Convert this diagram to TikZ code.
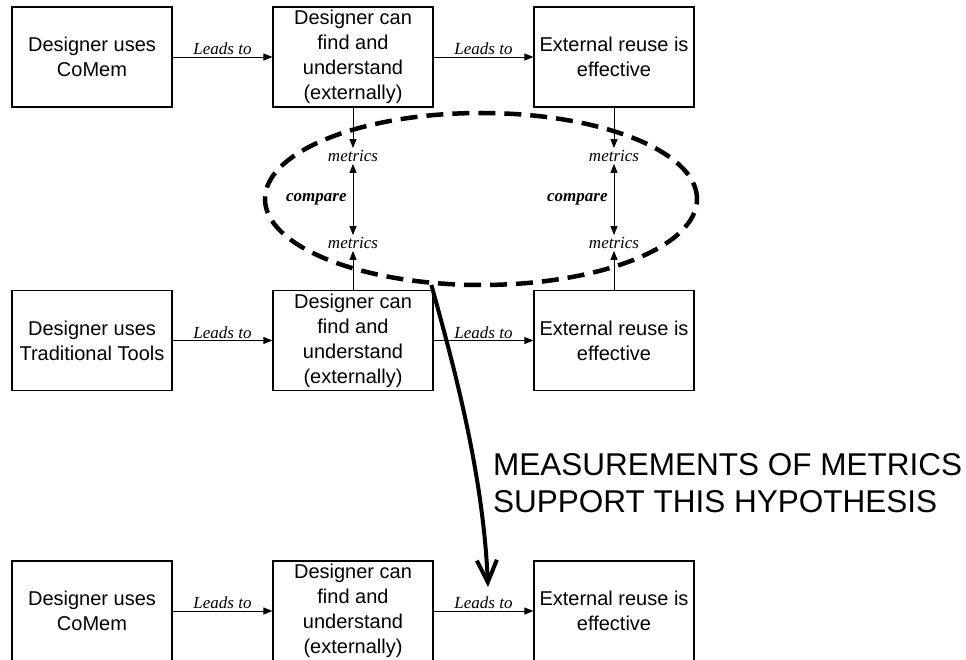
\documentclass[tikz,border=0pt]{standalone}
\usepackage{fontspec}
\setmainfont{Liberation Serif}
\newfontfamily\arialf{Liberation Sans}
\usetikzlibrary{arrows.meta,shapes.geometric}
\begin{document}
\begin{tikzpicture}[x=1pt,y=-1pt,
  box/.style={draw,line width=1.2pt,minimum width=160pt,minimum height=100pt,inner sep=0pt,align=center,font=\arialf\fontsize{20}{25}\selectfont},
  conn/.style={line width=0.9pt,-{Triangle[length=9pt,width=7pt]}},
  dconn/.style={line width=0.9pt,{Triangle[length=9pt,width=7pt]}-{Triangle[length=9pt,width=7pt]}},
  lbl/.style={font=\itshape\fontsize{17}{20}\selectfont,inner sep=1.5pt},
  met/.style={font=\itshape\fontsize{17}{20}\selectfont,inner sep=2pt},
  cmp/.style={font=\bfseries\itshape\fontsize{17}{20}\selectfont,inner sep=1pt},
  ring/.style={draw,ellipse,line width=4.5pt,dash pattern=on 17pt off 9pt,minimum width=432pt,minimum height=172pt,inner sep=0pt},
  bigarrow/.style={line width=4pt,-{Straight Barb[length=22pt,width=20pt,line width=4pt]}},
  bigtxt/.style={font=\arialf\fontsize{31.5}{37}\selectfont,inner sep=0pt,anchor=base west}]
\useasboundingbox (0,0) rectangle (966,660);

% row 1
\node[box] (a1) at (92,57) {Designer uses\\CoMem};
\node[box] (b1) at (353,57) {Designer can\\find and\\understand\\(externally)};
\node[box] (c1) at (614,57) {External reuse is\\effective};
% row 2
\node[box] (a2) at (92,340.5) {Designer uses\\Traditional Tools};
\node[box] (b2) at (353,340.5) {Designer can\\find and\\understand\\(externally)};
\node[box] (c2) at (614,340.5) {External reuse is\\effective};
% row 3
\node[box] (a3) at (92,611) {Designer uses\\CoMem};
\node[box] (b3) at (353,611) {Designer can\\find and\\understand\\(externally)};
\node[box] (c3) at (614,611) {External reuse is\\effective};

% leads to
\draw[conn] (a1) -- node[lbl,above]{Leads to} (b1);
\draw[conn] (b1) -- node[lbl,above]{Leads to} (c1);
\draw[conn] (a2) -- node[lbl,above]{Leads to} (b2);
\draw[conn] (b2) -- node[lbl,above]{Leads to} (c2);
\draw[conn] (a3) -- node[lbl,above]{Leads to} (b3);
\draw[conn] (b3) -- node[lbl,above]{Leads to} (c3);

% metrics
\node[met] (m1) at (353,156) {metrics};
\node[met] (m2) at (353,243) {metrics};
\node[met] (m3) at (614,156) {metrics};
\node[met] (m4) at (614,243) {metrics};
\draw[conn] (b1) -- (m1);
\draw[conn] (b2) -- (m2);
\draw[conn] (c1) -- (m3);
\draw[conn] (c2) -- (m4);
\draw[dconn] (m1) -- node[cmp,left=5pt]{compare} (m2);
\draw[dconn] (m3) -- node[cmp,left=5pt]{compare} (m4);

% ellipse
\node[ring] (ell) at (481,199) {};

% big curved arrow
\coordinate (tipc) at (488,587);
\draw[bigarrow] (ell.240) .. controls (452,360) and (483,470) .. (tipc);

\node[bigtxt] (meas1) at (493,475) {MEASUREMENTS OF METRICS};
\node[bigtxt] (meas2) at (493,512) {SUPPORT THIS HYPOTHESIS};
\end{tikzpicture}
\end{document}
